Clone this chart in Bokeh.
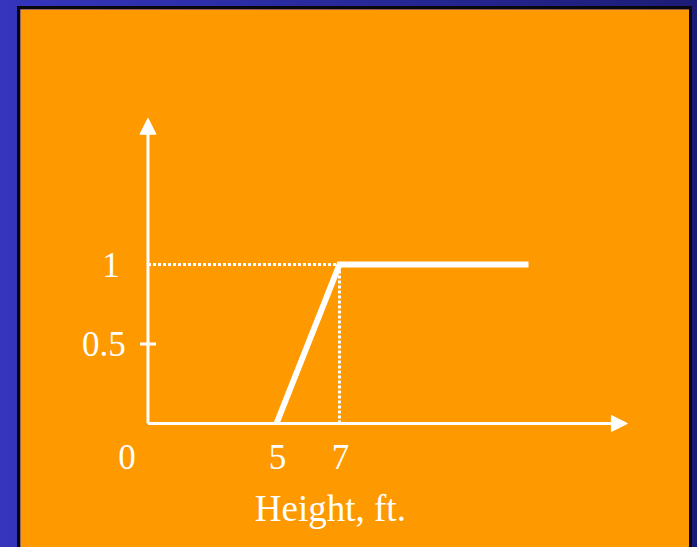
from bokeh.plotting import figure
from bokeh.models import Range1d, Arrow, NormalHead, ColumnDataSource
from bokeh.layouts import column
from bokeh.core.properties import value
from bokeh.embed import file_html
from bokeh.resources import INLINE

# Membership function for "tall": 0 below 5 ft, rising to 1 at 7 ft
height_ft = [5, 7, 13]
membership = [0, 1, 1]

# Tick positions and their labels
x_ticks = [5, 7]
x_tick_labels = ["5", "7"]
y_ticks = [1, 0.5]
y_tick_labels = ["1", "0.5"]
origin_label = "0"
x_title = "Height, ft."

# Where the drawn axes meet, and how far the arrows reach
axis_x0 = 0.92
x_arrow_end = 16.14
y_arrow_end = 1.92

ORANGE = "#ff9900"
WHITE = "#ffffff"
SERIF = value("Liberation Serif")

p = figure(width=669, height=538, output_backend="svg", toolbar_location=None,
           x_range=Range1d(-3.127, 18.111), y_range=Range1d(-0.780, 2.604),
           min_border=0, min_border_left=0, min_border_right=0,
           min_border_top=0, min_border_bottom=0,
           styles={"box-shadow": "0px 0px 0px 3px #07070d"})
p.axis.visible = False
p.grid.visible = False
p.background_fill_color = ORANGE
p.border_fill_color = ORANGE
p.outline_line_color = None

# Dotted guides to the corner of the ramp
p.line([axis_x0, x_ticks[1]], [y_ticks[0], y_ticks[0]], line_color=WHITE,
       line_width=3, line_dash="3 2")
p.line([x_ticks[1], x_ticks[1]], [0, y_ticks[0]], line_color=WHITE,
       line_width=3, line_dash="3 2")

# Axes with arrow heads
p.add_layout(Arrow(x_start=axis_x0, y_start=0, x_end=x_arrow_end, y_end=0,
                   line_color=WHITE, line_width=3,
                   end=NormalHead(size=16, fill_color=WHITE, line_color=WHITE, line_width=1)))
p.add_layout(Arrow(x_start=axis_x0, y_start=0, x_end=axis_x0, y_end=y_arrow_end,
                   line_color=WHITE, line_width=3,
                   end=NormalHead(size=16, fill_color=WHITE, line_color=WHITE, line_width=1)))

# Tick mark at 0.5
p.scatter(x=[axis_x0], y=[y_ticks[1]], marker="dash", size=16,
          line_color=WHITE, line_width=3)

# Membership curve
p.line(height_ft, membership, line_color=WHITE, line_width=6, line_join="miter")

# Y tick labels
p.text(x=[axis_x0], y=[y_ticks[0]], text=[y_tick_labels[0]], x_offset=-37,
       text_align="center", text_baseline="middle", text_color=WHITE,
       text_font=SERIF, text_font_size="35px")
p.text(x=[axis_x0], y=[y_ticks[1]], text=[y_tick_labels[1]], x_offset=-44,
       text_align="center", text_baseline="middle", text_color=WHITE,
       text_font=SERIF, text_font_size="35px")

# X tick labels and origin label
xsrc = ColumnDataSource(dict(x=x_ticks, y=[0] * len(x_ticks), t=x_tick_labels))
p.text(x="x", y="y", text="t", source=xsrc, y_offset=34, x_offset=1,
       text_align="center", text_baseline="middle", text_color=WHITE,
       text_font=SERIF, text_font_size="35px")
p.text(x=[axis_x0], y=[0], text=[origin_label], x_offset=-21, y_offset=34,
       text_align="center", text_baseline="middle", text_color=WHITE,
       text_font=SERIF, text_font_size="35px")

# Axis title
p.text(x=[6.71], y=[0], text=[x_title], y_offset=85,
       text_align="center", text_baseline="alphabetic", text_color=WHITE,
       text_font=SERIF, text_font_size="37px")

page = column(p, width=697, height=547,
              styles={"background": "linear-gradient(to right, #3535bd, #1c1c76)",
                      "padding": "9px 0px 0px 20px", "box-sizing": "border-box"})

open("out.html", "w").write(file_html(page, INLINE))
